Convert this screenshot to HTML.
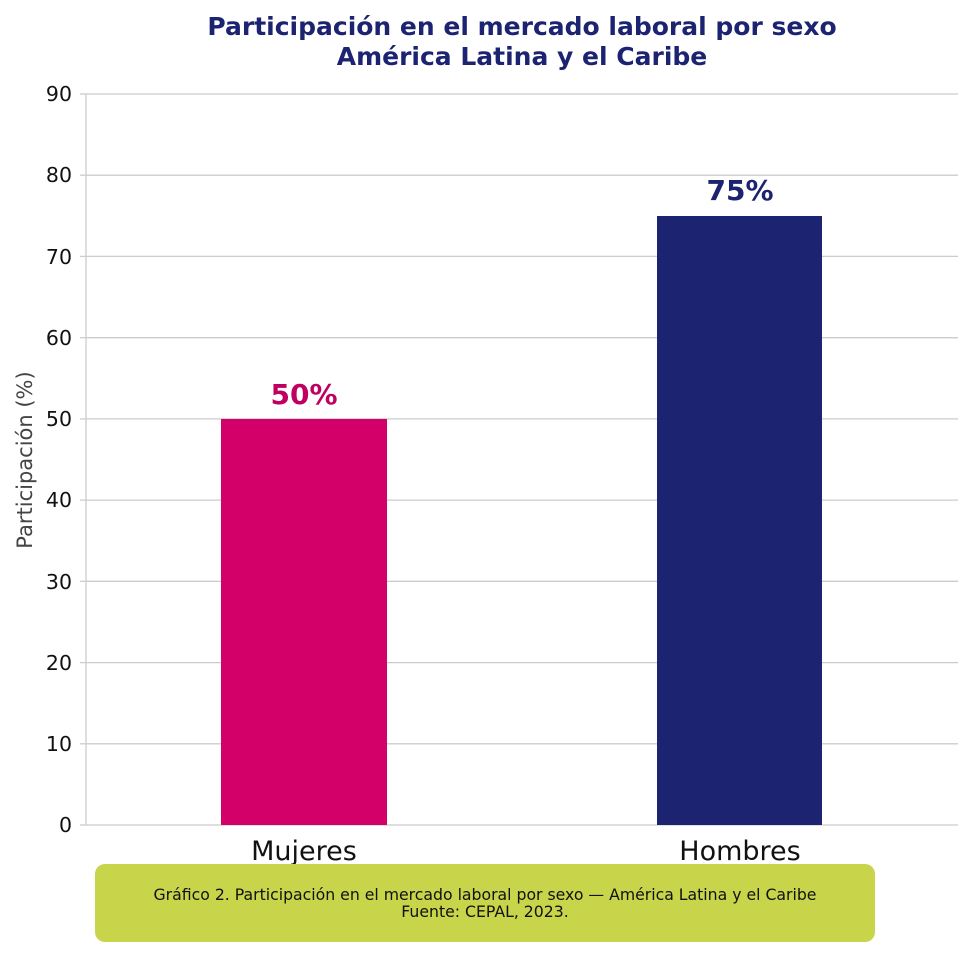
<!DOCTYPE html>
<html><head><meta charset="utf-8"><style>
html,body{margin:0;padding:0;background:#fff;}
svg{display:block;font-family:"DejaVu Sans","Liberation Sans",sans-serif;}
</style></head><body>
<svg width="972" height="958" viewBox="0 0 972 958" xmlns="http://www.w3.org/2000/svg">
<rect width="972" height="958" fill="#fff"/>
<g stroke="#cccccc" stroke-width="1.3">
<line x1="86" x2="958" y1="94" y2="94"/>
<line x1="86" x2="958" y1="175.2" y2="175.2"/>
<line x1="86" x2="958" y1="256.4" y2="256.4"/>
<line x1="86" x2="958" y1="337.7" y2="337.7"/>
<line x1="86" x2="958" y1="418.9" y2="418.9"/>
<line x1="86" x2="958" y1="500.1" y2="500.1"/>
<line x1="86" x2="958" y1="581.3" y2="581.3"/>
<line x1="86" x2="958" y1="662.6" y2="662.6"/>
<line x1="86" x2="958" y1="743.8" y2="743.8"/>
<line x1="86" x2="958" y1="825" y2="825"/>
<line x1="86" x2="86" y1="94" y2="825"/>
<line x1="80" x2="86" y1="94" y2="94"/><line x1="80" x2="86" y1="175.2" y2="175.2"/><line x1="80" x2="86" y1="256.4" y2="256.4"/><line x1="80" x2="86" y1="337.7" y2="337.7"/><line x1="80" x2="86" y1="418.9" y2="418.9"/><line x1="80" x2="86" y1="500.1" y2="500.1"/><line x1="80" x2="86" y1="581.3" y2="581.3"/><line x1="80" x2="86" y1="662.6" y2="662.6"/><line x1="80" x2="86" y1="743.8" y2="743.8"/><line x1="80" x2="86" y1="825" y2="825"/>
</g>
<g font-size="20.5" fill="#111" text-anchor="end">
<text x="72" y="101">90</text><text x="72" y="182">80</text><text x="72" y="264">70</text><text x="72" y="345">60</text><text x="72" y="426">50</text><text x="72" y="507">40</text><text x="72" y="589">30</text><text x="72" y="670">20</text><text x="72" y="751">10</text><text x="72" y="832">0</text>
</g>
<text transform="translate(32,460) rotate(-90)" text-anchor="middle" font-size="21" fill="#444">Participación (%)</text>
<rect x="221" y="419" width="166" height="406" fill="#d30069"/>
<rect x="657" y="216" width="165" height="609" fill="#1c2371"/>
<text x="304" y="404" text-anchor="middle" font-size="28" font-weight="bold" fill="#c00060">50%</text>
<text x="740" y="200" text-anchor="middle" font-size="28" font-weight="bold" fill="#1c2371">75%</text>
<text x="304" y="860" text-anchor="middle" font-size="27" fill="#111">Mujeres</text>
<text x="740" y="860" text-anchor="middle" font-size="27" fill="#111">Hombres</text>
<text x="522" y="35" text-anchor="middle" font-size="25" font-weight="bold" fill="#1c2371">Participación en el mercado laboral por sexo</text>
<text x="522" y="65" text-anchor="middle" font-size="25" font-weight="bold" fill="#1c2371">América Latina y el Caribe</text>
<rect x="95" y="864" width="780" height="78" rx="10" fill="#c8d44a"/>
<text x="485" y="900" text-anchor="middle" font-size="15.7" fill="#111">Gráfico 2. Participación en el mercado laboral por sexo — América Latina y el Caribe</text>
<text x="485" y="917" text-anchor="middle" font-size="15.7" fill="#111">Fuente: CEPAL, 2023.</text>
</svg>
</body></html>
